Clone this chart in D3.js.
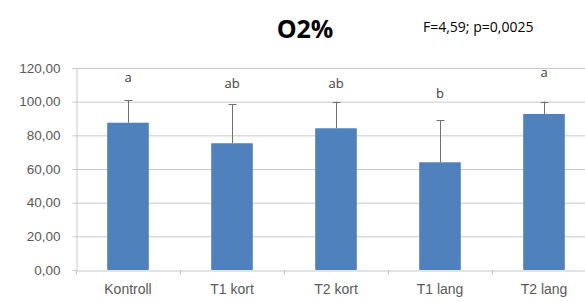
<!DOCTYPE html>
<html>
<head>
<meta charset="utf-8">
<script src="https://cdn.jsdelivr.net/npm/d3@7"></script>
<style>
  body { margin: 0; background: #fff; }
  svg { display: block; font-family: "Open Sans", "Liberation Sans", sans-serif; }
</style>
</head>
<body>
<div id="chart"></div>
<script>
// data
const categories = ['Kontroll', 'T1 kort', 'T2 kort', 'T1 lang', 'T2 lang'];
const means = [87.5, 75.3, 84.2, 64.0, 92.7];
const errTop = [101.0, 98.6, 100.0, 89.0, 100.0];
const letters = ['a', 'ab', 'ab', 'b', 'a'];
const letterY = [111.5, 108, 108, 102, 114.5];
const yTicks = [0, 20, 40, 60, 80, 100, 120];

const width = 585, height = 302;
const margin = { top: 68, right: -11, bottom: 32, left: 76 };

const svg = d3.select('#chart').append('svg')
    .attr('width', width).attr('height', height);

const x = d3.scaleBand().domain(categories)
    .range([margin.left, width - margin.right])
    .paddingInner(0.6).paddingOuter(0.3);
const band = d3.scaleBand().domain(categories)
    .range([margin.left, width - margin.right]);
const y = d3.scaleLinear().domain([0, 120]).range([height - margin.bottom, margin.top]);

// --- gridlines
svg.append('g')
    .selectAll('line')
    .data(yTicks.filter(d => d > 0))
    .join('line')
    .attr('x1', margin.left).attr('x2', width)
    .attr('y1', d => y(d) + 0.5).attr('y2', d => y(d) + 0.5)
    .attr('stroke', '#c8c8c8');

// --- y axis
const gy = svg.append('g')
    .attr('transform', `translate(${margin.left + 0.5},0)`)
    .call(d3.axisLeft(y).tickValues(yTicks).tickSize(4).tickPadding(12)
        .tickFormat(d => d3.format('.2f')(d).replace('.', ',')));
gy.select('.domain').attr('stroke', '#c8c8c8');
gy.selectAll('.tick line').attr('stroke', '#c8c8c8');
gy.selectAll('.tick text').attr('fill', '#595959').attr('font-size', 13.5);

// --- x axis
const gx = svg.append('g')
    .attr('transform', `translate(0,${y(0) + 0.5})`)
    .call(d3.axisBottom(band).tickSize(0).tickPadding(14));
gx.select('.domain').attr('stroke', '#c8c8c8');
gx.selectAll('.tick text').attr('fill', '#595959').attr('font-size', 14);
svg.append('g')
    .selectAll('line')
    .data(categories)
    .join('line')
    .attr('x1', d => band(d) + 0.5).attr('x2', d => band(d) + 0.5)
    .attr('y1', y(0)).attr('y2', y(0) + 5)
    .attr('stroke', '#c8c8c8');

// --- bars
svg.append('g')
    .selectAll('rect')
    .data(categories)
    .join('rect')
    .attr('x', d => x(d))
    .attr('width', x.bandwidth())
    .attr('y', (d, i) => y(means[i]))
    .attr('height', (d, i) => y(0) - y(means[i]))
    .attr('fill', '#4f81bd');

// --- error bars (upper only)
const eb = svg.append('g').attr('stroke', '#707070').attr('stroke-width', 1);
categories.forEach((c, i) => {
    const cx = Math.round(x(c) + x.bandwidth() / 2) + 0.5;
    eb.append('line')
        .attr('x1', cx).attr('x2', cx)
        .attr('y1', y(means[i])).attr('y2', y(errTop[i]));
    eb.append('line')
        .attr('x1', cx - 4).attr('x2', cx + 4)
        .attr('y1', Math.round(y(errTop[i])) + 0.5).attr('y2', Math.round(y(errTop[i])) + 0.5);
});

// --- significance letters
svg.append('g')
    .selectAll('text')
    .data(categories)
    .join('text')
    .attr('x', d => x(d) + x.bandwidth() / 2)
    .attr('y', (d, i) => y(letterY[i]))
    .attr('text-anchor', 'middle')
    .attr('font-size', 13)
    .attr('fill', '#404040')
    .text((d, i) => letters[i]);

// --- titles
svg.append('text')
    .attr('x', 305).attr('y', 38)
    .attr('text-anchor', 'middle')
    .attr('font-size', 25).attr('font-weight', 'bold')
    .attr('fill', '#000')
    .text('O2%');
svg.append('text')
    .attr('x', 423).attr('y', 32)
    .attr('font-size', 14)
    .attr('fill', '#000')
    .text('F=4,59; p=0,0025');
</script>
</body>
</html>
